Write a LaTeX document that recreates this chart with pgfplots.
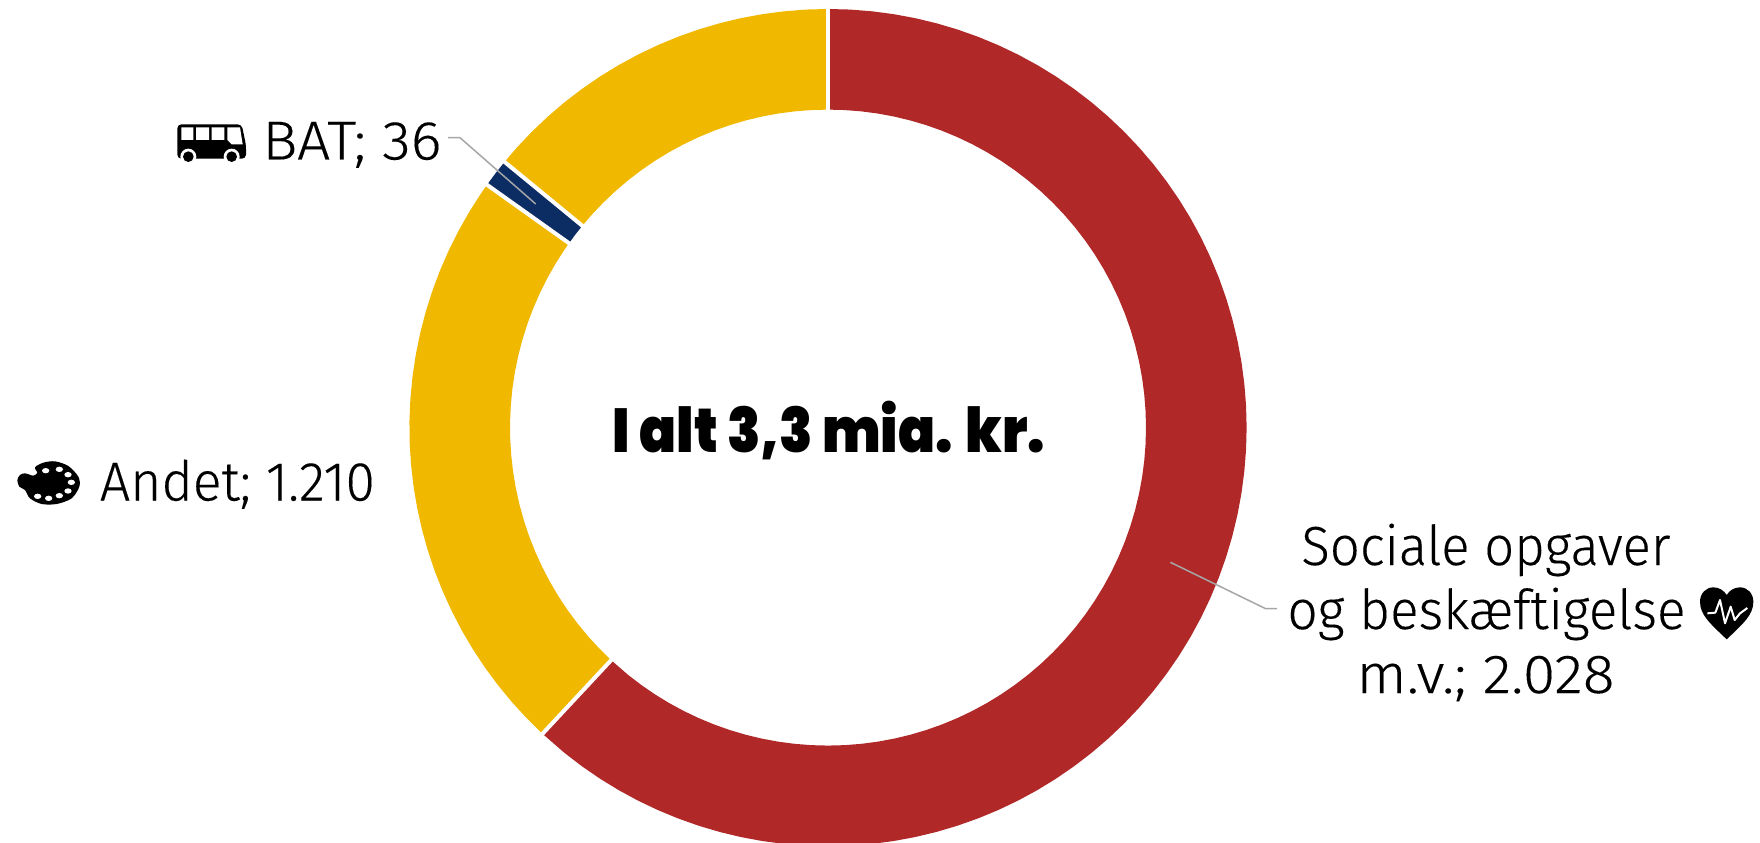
\documentclass[border=0pt]{standalone}
\usepackage{fontspec}
\usepackage{pgfplots}
\pgfplotsset{compat=1.18}
\setmainfont{Fira Sans}[UprightFont=* Light,UprightFeatures={FakeBold=0.2}]
\newfontfamily\titlefont{Poppins}[UprightFont=* Black]
\definecolor{dred}{RGB}{176,40,40}
\definecolor{dyel}{RGB}{241,184,0}
\definecolor{dnavy}{RGB}{12,44,100}
\definecolor{lead}{RGB}{166,166,166}
\newcommand{\lab}[4]{\node[anchor=base west,inner sep=0pt] at (#1,#2) {\resizebox{#3pt}{\height}{\fontsize{27.5pt}{30pt}\selectfont #4}};}
\begin{document}
\begin{tikzpicture}
\begin{axis}[
  scale only axis, width=880pt, height=421pt,
  xmin=-828, xmax=932, ymin=-414.4, ymax=427.6,
  hide axis, clip=true]
% Sociale opgaver og beskaeftigelse m.v. 2028: 222.99 deg
\addplot[dred,line width=50.3pt,line join=round,data cs=polar] coordinates {
(90,368.3)(87,368.3)(84,368.3)(81,368.3)(78,368.3)(75,368.3)(72,368.3)(69,368.3)(66,368.3)(63,368.3)
(60,368.3)(57,368.3)(54,368.3)(51,368.3)(48,368.3)(45,368.3)(42,368.3)(39,368.3)(36,368.3)(33,368.3)
(30,368.3)(27,368.3)(24,368.3)(21,368.3)(18,368.3)(15,368.3)(12,368.3)(9,368.3)(6,368.3)(3,368.3)
(0,368.3)(-3,368.3)(-6,368.3)(-9,368.3)(-12,368.3)(-15,368.3)(-18,368.3)(-21,368.3)(-24,368.3)(-27,368.3)
(-30,368.3)(-33,368.3)(-36,368.3)(-39,368.3)(-42,368.3)(-45,368.3)(-48,368.3)(-51,368.3)(-54,368.3)(-57,368.3)
(-60,368.3)(-63,368.3)(-66,368.3)(-69,368.3)(-72,368.3)(-75,368.3)(-78,368.3)(-81,368.3)(-84,368.3)(-87,368.3)
(-90,368.3)(-93,368.3)(-96,368.3)(-99,368.3)(-102,368.3)(-105,368.3)(-108,368.3)(-111,368.3)(-114,368.3)(-117,368.3)
(-120,368.3)(-123,368.3)(-126,368.3)(-129,368.3)(-133,368.3)};
% Andet 1210 (first part)
\addplot[dyel,line width=50.3pt,line join=round,data cs=polar] coordinates {
(227,368.3)(224,368.3)(221,368.3)(218,368.3)(215,368.3)(212,368.3)(209,368.3)(206,368.3)(203,368.3)(200,368.3)
(197,368.3)(194,368.3)(191,368.3)(188,368.3)(185,368.3)(182,368.3)(179,368.3)(176,368.3)(173,368.3)(170,368.3)
(167,368.3)(164,368.3)(161,368.3)(158,368.3)(155,368.3)(152,368.3)(149,368.3)(146,368.3)(144.55,368.3)};
% BAT 36
\addplot[dnavy,line width=50.3pt,line join=round,data cs=polar] coordinates {
(144.55,368.3)(142.5,368.3)(140.6,368.3)};
% Andet 1210 (second part)
\addplot[dyel,line width=50.3pt,line join=round,data cs=polar] coordinates {
(140.6,368.3)(138,368.3)(135,368.3)(132,368.3)(129,368.3)(126,368.3)(123,368.3)(120,368.3)(117,368.3)(114,368.3)
(111,368.3)(108,368.3)(105,368.3)(102,368.3)(99,368.3)(96,368.3)(93,368.3)(90,368.3)};
% separators
\addplot[white,line width=2pt,data cs=polar] coordinates {(90,310)(90,425)};
\addplot[white,line width=2pt,data cs=polar] coordinates {(-133,310)(-133,425)};
\addplot[white,line width=2pt,data cs=polar] coordinates {(144.55,310)(144.55,425)};
\addplot[white,line width=2pt,data cs=polar] coordinates {(140.6,310)(140.6,425)};
% leader lines
\addplot[lead,line width=0.75pt] coordinates {(-380,289.9)(-368,289.9)(-292.3,223.6)};
\addplot[lead,line width=0.75pt] coordinates {(342.4,-134.7)(437.7,-181.1)(449.2,-181.1)};
\end{axis}
\begin{scope}[shift={(0pt,421pt)},x=0.5pt,y=-0.5pt]
\lab{262}{159.5}{89.5}{BAT; 36}
\lab{99.5}{500.5}{137.5}{Andet; 1.210}
\lab{1301}{565}{184.5}{Sociale opgaver}
\lab{1287}{629}{199}{og beskæftigelse}
\lab{1356}{693}{129}{m.v.; 2.028}
\node[anchor=base west,inner sep=0pt] at (612.5,452) {\resizebox{216pt}{\height}{\titlefont\fontsize{31pt}{35pt}\selectfont I alt 3,3 mia. kr.}};
\end{scope}
% bus icon
\begin{scope}[shift={(70pt,376pt)},x=0.16667pt,y=-0.16667pt]
\fill[black,rounded corners=2pt] (112,103) -- (305,103) -- (318,165) -- (318,206) -- (112,206) -- cycle;
\fill[white] (124,112) rectangle (160,150) (168,112) rectangle (207,150) (215,112) rectangle (253,150);
\fill[white] (262,112) -- (300,112) -- (308,163) -- (275,163) -- (262,150) -- cycle;
\fill[white] (145,200) circle[radius=24];
\fill[white] (275,200) circle[radius=24];
\fill[black] (145,200) circle[radius=16];
\fill[black] (275,200) circle[radius=16];
\end{scope}
% palette icon
\begin{scope}[shift={(0pt,206pt)},x=0.16667pt,y=-0.16667pt]
\fill[black] plot[smooth cycle] coordinates {(52,150)(60,135)(75,130)(100,137)(112,128)(105,112)(130,98)(165,94)(205,108)(235,140)(238,170)(215,205)(170,222)(125,222)(90,205)(75,180)(58,170)};
\foreach \px/\py in {137/122,178/118,204/134,214/157,204/183,178/197,146/205,113/199}
  \fill[white] (\px,\py) ellipse[x radius=11,y radius=8];
\end{scope}
% heart icon
\begin{scope}[shift={(845pt,131pt)},x=0.16667pt,y=-0.16667pt]
\fill[black] (110,178) .. controls (60,130) and (30,105) .. (30,65) .. controls (30,40) and (48,22) .. (70,22) .. controls (88,22) and (102,32) .. (110,45) .. controls (118,32) and (132,22) .. (150,22) .. controls (172,22) and (190,40) .. (190,65) .. controls (190,105) and (160,130) .. (110,178) -- cycle;
\draw[white,line width=1pt,line join=round] (52,100) -- (76,98) -- (90,60) -- (105,130) -- (122,80) -- (134,120) -- (150,100) -- (172,84);
\end{scope}
\pgfresetboundingbox
\path (0,0) rectangle (880pt,421pt);
\end{tikzpicture}
\end{document}
